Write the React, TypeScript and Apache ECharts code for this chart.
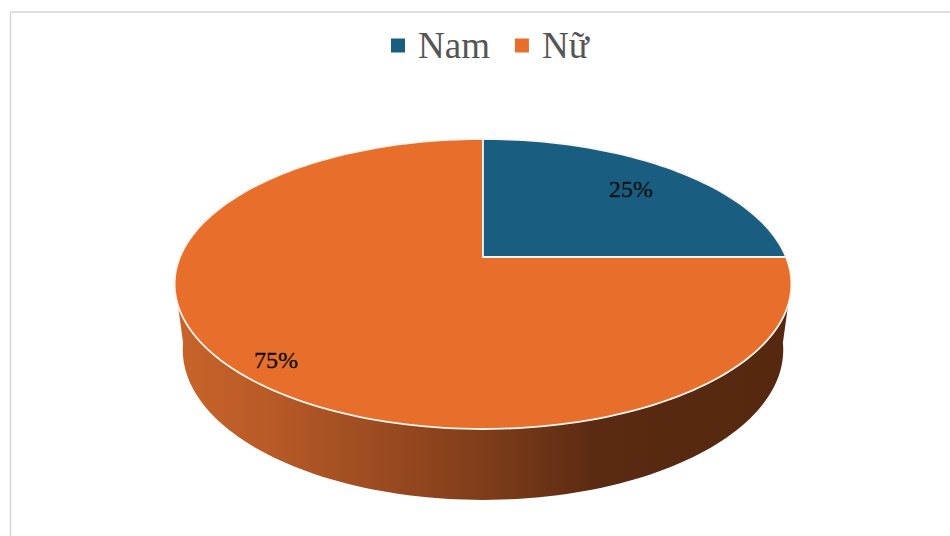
import React, { useEffect, useRef } from "react";
import * as echarts from "echarts";

const categories = ["Nam", "Nữ"];
const sliceValues = [25, 75];
const sliceLabels = ["25%", "75%"];
const sliceColors = ["#195E80", "#E76F2B"];

// Perspective disc: a unit circle on the table projected to the picture
const CX = 483;
const TOP = { y0: 257, rx: 303, ry: 140 };
const BASE = { y0: 322, rx: 295, ry: 144.8 };
const TILT = 0.186;
const SIDE_TOP = [108.8, 251.2];
const SIDE_BASE = [98, 262];

function project(deg: number, f: { y0: number; rx: number; ry: number }) {
  const t = (deg * Math.PI) / 180;
  const w = 1 + TILT * Math.cos(t);
  return [CX + (f.rx * Math.sin(t)) / w, f.y0 - (f.ry * Math.cos(t)) / w];
}

function arc(from: number, to: number, f: { y0: number; rx: number; ry: number }) {
  const n = Math.max(2, Math.ceil(Math.abs(to - from) / 1.5));
  const pts: number[][] = [];
  for (let i = 0; i <= n; i++) pts.push(project(from + ((to - from) * i) / n, f));
  return pts;
}

function makeRenderItem(index: number, labelPos: number[]) {
  const total = sliceValues.reduce((a, b) => a + b, 0);
  const startValue = sliceValues.slice(0, index).reduce((a, b) => a + b, 0);
  return (_params: any, api: any) => {
    const value = api.value(0);
    const a0 = (startValue / total) * 360;
    const a1 = ((startValue + value) / total) * 360;
    const children: any[] = [];
    const lo = Math.max(a0, SIDE_TOP[0]);
    const hi = Math.min(a1, SIDE_TOP[1]);
    if (hi > lo) {
      children.push({
        type: "polygon",
        shape: { points: [...arc(lo, hi, TOP), ...arc(SIDE_BASE[1], SIDE_BASE[0], BASE)] },
        style: {
          fill: {
            type: "linear",
            x: 0,
            y: 0,
            x2: 1,
            y2: 0,
            colorStops: [
              { offset: 0, color: "#C8642A" },
              { offset: 0.15, color: "#B85A27" },
              { offset: 0.365, color: "#96481F" },
              { offset: 0.53, color: "#7A3A19" },
              { offset: 0.69, color: "#5A2A12" },
              { offset: 1, color: "#55280F" },
            ],
          },
        },
      });
    }
    children.push({
      type: "polygon",
      shape: { points: [[CX, TOP.y0], ...arc(a0, a1, TOP)] },
      style: { fill: sliceColors[index], stroke: "#F8F4F0", lineWidth: 1.8 },
    });
    children.push({
      type: "text",
      x: labelPos[0],
      y: labelPos[1],
      style: {
        text: sliceLabels[index],
        fill: "#111111",
        stroke: "#111111",
        lineWidth: 0.35,
        fontFamily: "Liberation Serif",
        fontSize: 24,
        align: "center",
        verticalAlign: "middle",
      },
    });
    return { type: "group", children };
  };
}

export default function App() {
  const ref = useRef<HTMLDivElement>(null);
  useEffect(() => {
    const chart = echarts.init(ref.current!, null, { renderer: "svg" });
    chart.setOption({
      animation: false,
      backgroundColor: "#ffffff",
      legend: {
        data: categories,
        left: 386,
        top: 22,
        icon: "rect",
        itemWidth: 14,
        itemHeight: 14,
        itemGap: 25,
        textStyle: { fontFamily: "Liberation Serif", fontSize: 37, color: "#555555", padding: [0, 0, 0, 8] },
      },
      graphic: [
        { type: "line", shape: { x1: 10.5, y1: 12, x2: 950, y2: 12 }, style: { stroke: "#D4D4D4", lineWidth: 1.5 } },
        { type: "line", shape: { x1: 10.5, y1: 12, x2: 10.5, y2: 536 }, style: { stroke: "#D4D4D4", lineWidth: 1.5 } },
      ],
      series: [
        {
          type: "custom",
          name: categories[1],
          coordinateSystem: "none",
          itemStyle: { color: sliceColors[1] },
          data: [sliceValues[1]],
          renderItem: makeRenderItem(1, [276, 360]),
        },
        {
          type: "custom",
          name: categories[0],
          coordinateSystem: "none",
          itemStyle: { color: sliceColors[0] },
          data: [sliceValues[0]],
          renderItem: makeRenderItem(0, [631, 189]),
        },
      ],
    });
    return () => chart.dispose();
  }, []);
  return <div ref={ref} style={{ position: "absolute", left: 0, top: 0, width: 950, height: 536 }} />;
}
